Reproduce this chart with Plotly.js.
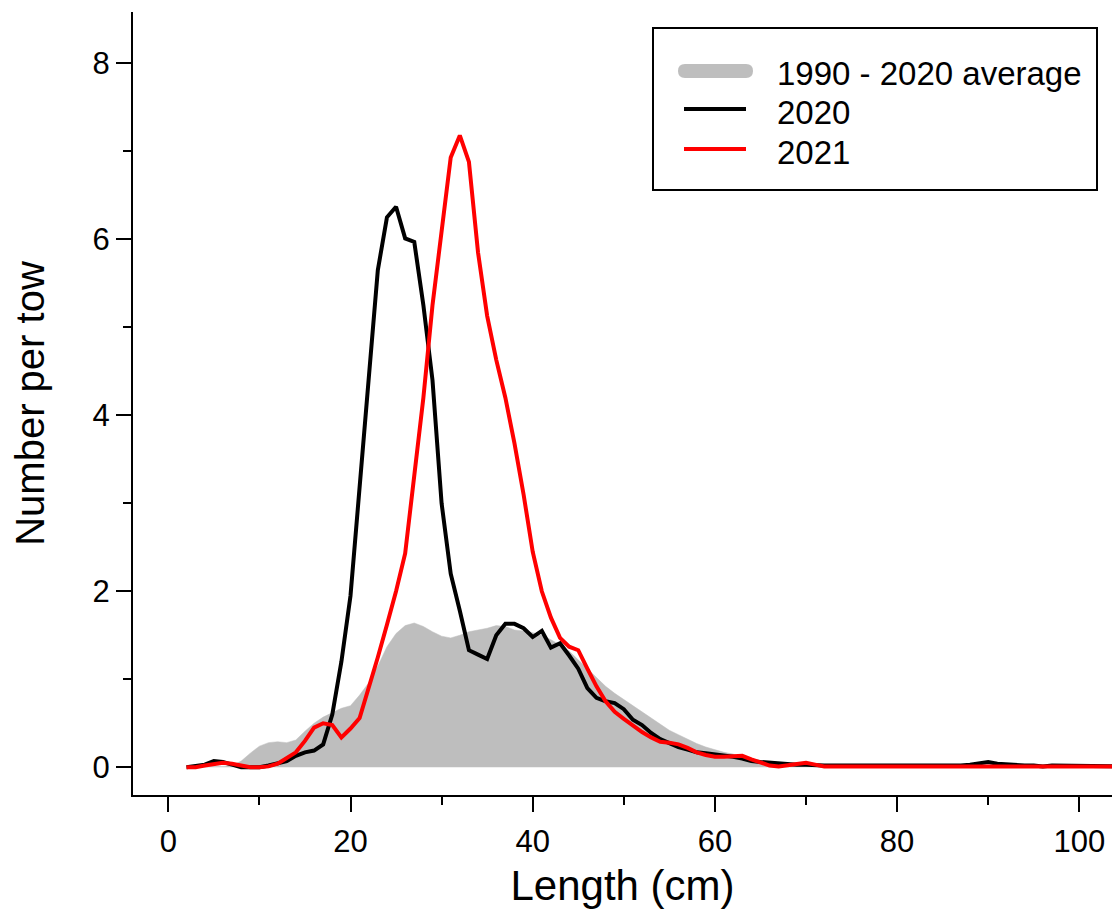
<!DOCTYPE html>
<html>
<head>
<meta charset="utf-8">
<script src="https://cdn.plot.ly/plotly-3.0.1.min.js"></script>
<style>html,body{margin:0;padding:0;background:#fff;}#chart{width:1112px;height:915px;}</style>
</head>
<body>
<div id="chart"></div>
<script>
// Length classes (cm)
var lengths = [2,3,4,5,6,7,8,9,10,11,12,13,14,15,16,17,18,19,20,21,22,23,24,25,26,27,28,29,30,31,32,33,34,35,36,37,38,39,40,41,42,43,44,45,46,47,48,49,50,51,52,53,54,55,56,57,58,59,60,61,62,63,64,65,66,67,68,69,70,71,72,73,74,75,76,77,78,79,80,81,82,83,84,85,86,87,88,89,90,91,92,93,94,95,96,97,98,99,100,101,102,103,104,105];

// 1990 - 2020 average
var avg1990_2020 = [0,0,0.005,0.01,0.01,0.02,0.07,0.16,0.24,0.28,0.29,0.28,0.31,0.41,0.5,0.57,0.62,0.67,0.7,0.82,0.96,1.15,1.37,1.52,1.61,1.64,1.6,1.54,1.49,1.47,1.5,1.54,1.56,1.58,1.61,1.6,1.56,1.55,1.53,1.5,1.45,1.39,1.32,1.22,1.12,1.02,0.92,0.84,0.77,0.7,0.63,0.55,0.48,0.42,0.37,0.32,0.27,0.23,0.2,0.17,0.15,0.12,0.09,0.07,0.06,0.05,0.04,0.03,0.03,0.02,0.02,0.02,0.02,0.02,0.02,0.02,0.02,0.02,0.02,0.01,0.01,0.01,0.01,0.01,0.01,0.01,0.01,0.01,0.01,0.01,0.01,0.01,0.01,0.01,0.01,0.01,0.01,0.01,0.01,0.01,0.01,0.01,0.01,0.01];

// 2020
var y2020 = [0,0.01,0.03,0.07,0.06,0.03,0,0,0,0.02,0.04,0.07,0.13,0.17,0.19,0.26,0.6,1.2,1.95,3.2,4.5,5.65,6.25,6.37,6.01,5.97,5.25,4.4,3.0,2.2,1.78,1.33,1.28,1.23,1.5,1.63,1.63,1.58,1.48,1.55,1.36,1.41,1.27,1.12,0.9,0.79,0.75,0.73,0.66,0.54,0.48,0.39,0.32,0.27,0.23,0.2,0.17,0.16,0.15,0.14,0.12,0.1,0.07,0.06,0.05,0.05,0.04,0.03,0.03,0.02,0.02,0.02,0.02,0.01,0.02,0.02,0.01,0.02,0.02,0.01,0.02,0.02,0.01,0.02,0.02,0.02,0.03,0.05,0.06,0.04,0.03,0.02,0.02,0.02,0.01,0.02,0.02,0.01,0.01,0.01,0.01,0.01,0.01,0.01];

// 2021
var y2021 = [0,0,0.02,0.04,0.05,0.04,0.02,0,0,0.01,0.04,0.1,0.17,0.3,0.45,0.5,0.48,0.34,0.44,0.56,0.9,1.25,1.62,2.0,2.43,3.3,4.2,5.25,6.05,6.93,7.18,6.88,5.85,5.13,4.63,4.2,3.68,3.1,2.45,2.0,1.7,1.47,1.37,1.33,1.12,0.92,0.75,0.63,0.55,0.47,0.4,0.34,0.29,0.28,0.26,0.22,0.17,0.14,0.12,0.12,0.12,0.13,0.09,0.05,0.02,0.01,0.02,0.03,0.05,0.03,0.01,0.01,0.01,0.01,0.01,0.01,0.01,0.01,0.01,0.01,0.01,0.01,0.01,0.01,0.01,0.01,0.01,0.01,0.01,0.01,0.01,0.01,0.01,0.01,0.01,0.01,0.01,0.01,0.01,0.01,0.01,0.01,0.01,0.01];

var seriesNames = ['1990 - 2020 average', '2020', '2021'];
var xTitle = 'Length (cm)';
var yTitle = 'Number per tow';

var FONT = 'Liberation Sans, Arial, Helvetica, sans-serif';

var traces = [
  {x: lengths, y: avg1990_2020, type: 'scatter', mode: 'lines', fill: 'tozeroy',
   fillcolor: '#bebebe', line: {color: '#bebebe', width: 0.5}, name: seriesNames[0], hoverinfo: 'skip'},
  {x: lengths, y: y2020, type: 'scatter', mode: 'lines',
   line: {color: '#000000', width: 4}, name: seriesNames[1], hoverinfo: 'skip'},
  {x: lengths, y: y2021, type: 'scatter', mode: 'lines',
   line: {color: '#ff0000', width: 4}, name: seriesNames[2], hoverinfo: 'skip'}
];

// plot area in pixels
var M = {l: 133, r: 0, t: 12, b: 120};
var W = 1112, H = 915;
var pw = W - M.l - M.r, ph = H - M.t - M.b;
function px(xp) { return (xp - M.l) / pw; }
function py(yp) { return (H - M.b - yp) / ph; }

// manual legend (box, keys, labels)
var shapes = [
  {type: 'rect', xref: 'paper', yref: 'paper', x0: px(653), x1: px(1097), y0: py(190), y1: py(28),
   line: {color: '#000', width: 2}, fillcolor: '#fff', layer: 'above'},
  {type: 'path', xref: 'paper', yref: 'paper', layer: 'above', fillcolor: '#bebebe', line: {width: 0},
   path: 'M' + px(685) + ',' + py(64) + ' L' + px(746) + ',' + py(64) +
         ' Q' + px(753) + ',' + py(64) + ' ' + px(753) + ',' + py(71) +
         ' Q' + px(753) + ',' + py(78) + ' ' + px(746) + ',' + py(78) +
         ' L' + px(685) + ',' + py(78) +
         ' Q' + px(678) + ',' + py(78) + ' ' + px(678) + ',' + py(71) +
         ' Q' + px(678) + ',' + py(64) + ' ' + px(685) + ',' + py(64) + ' Z'},
  {type: 'line', xref: 'paper', yref: 'paper', layer: 'above', x0: px(684), x1: px(746), y0: py(109), y1: py(109),
   line: {color: '#000', width: 4}},
  {type: 'line', xref: 'paper', yref: 'paper', layer: 'above', x0: px(684), x1: px(746), y0: py(149), y1: py(149),
   line: {color: '#ff0000', width: 4}}
];
var legendY = [73, 112, 152];
var annotations = seriesNames.map(function (t, i) {
  return {text: t, xref: 'paper', yref: 'paper', x: px(775), y: py(legendY[i]), xanchor: 'left', yanchor: 'middle',
          showarrow: false, font: {family: FONT, size: 33, color: '#000'}};
});

var axisCommon = {
  showline: true, linecolor: '#000', linewidth: 2, mirror: false,
  ticks: 'outside', ticklen: 15, tickwidth: 2, tickcolor: '#000',
  showgrid: false, zeroline: false,
  tickfont: {family: FONT, size: 31, color: '#000'}
};

var layout = {
  width: W, height: H, margin: M,
  paper_bgcolor: '#fff', plot_bgcolor: '#fff',
  font: {family: FONT, color: '#000'},
  showlegend: false,
  xaxis: Object.assign({}, axisCommon, {
    range: [-3.875, 103.59], tick0: 0, dtick: 20, ticklabelstandoff: 3,
    minor: {dtick: 10, ticks: 'outside', ticklen: 8, tickwidth: 2, tickcolor: '#000', showgrid: false},
    title: {text: xTitle, font: {family: FONT, size: 42, color: '#000'}, standoff: 12}
  }),
  yaxis: Object.assign({}, axisCommon, {
    range: [-0.315, 8.583], tick0: 0, dtick: 2,
    minor: {dtick: 1, ticks: 'outside', ticklen: 8, tickwidth: 2, tickcolor: '#000', showgrid: false},
    title: {text: yTitle, font: {family: FONT, size: 40, color: '#000'}, standoff: 36}
  }),
  shapes: shapes,
  annotations: annotations
};

Plotly.newPlot('chart', traces, layout, {displayModeBar: false, staticPlot: true});
</script>
</body>
</html>
